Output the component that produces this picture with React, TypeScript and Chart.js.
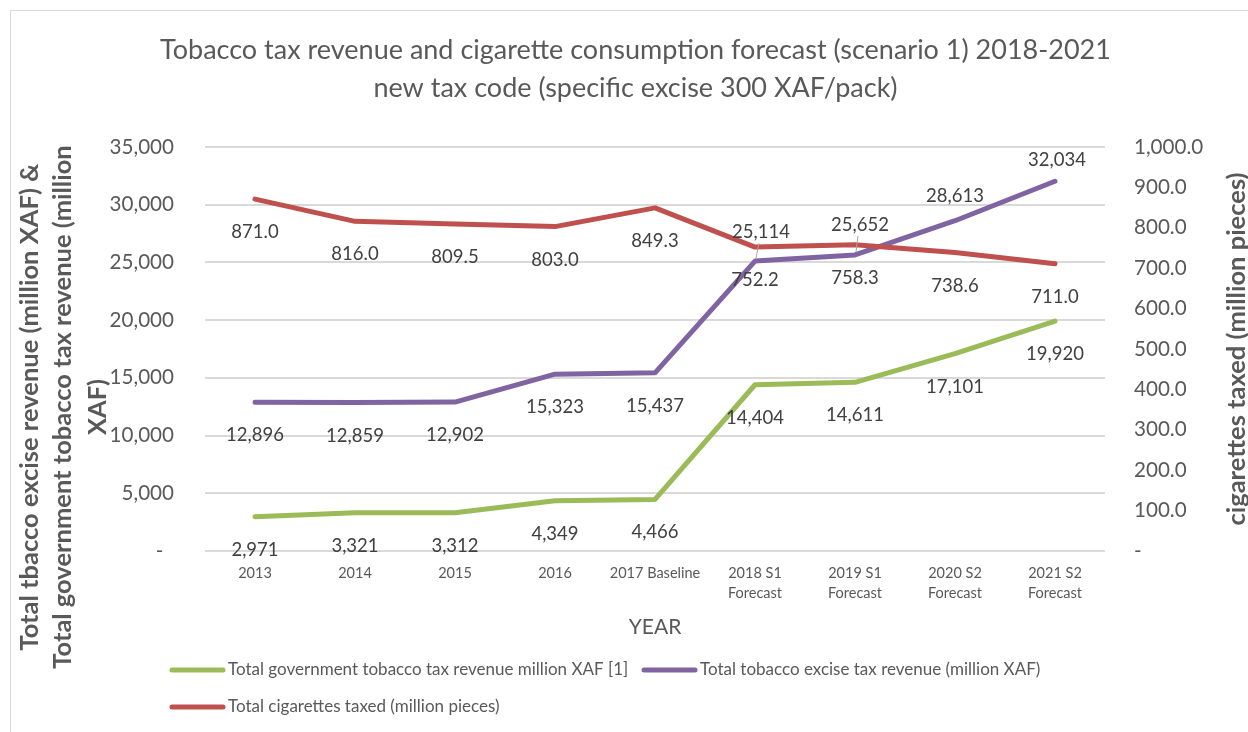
import React, { useEffect, useRef } from "react";
import { Chart, registerables } from "chart.js";

Chart.register(...registerables);

// ---------- data ----------
const categories: string[][] = [
  ["2013"],
  ["2014"],
  ["2015"],
  ["2016"],
  ["2017 Baseline"],
  ["2018 S1", "Forecast"],
  ["2019 S1", "Forecast"],
  ["2020 S2", "Forecast"],
  ["2021 S2", "Forecast"],
];
const governmentRevenue = [2971, 3321, 3312, 4349, 4466, 14404, 14611, 17101, 19920];
const exciseRevenue = [12896, 12859, 12902, 15323, 15437, 25114, 25652, 28613, 32034];
const cigarettesTaxed = [871.0, 816.0, 809.5, 803.0, 849.3, 752.2, 758.3, 738.6, 711.0];

const seriesNames = [
  "Total government tobacco tax revenue million XAF [1]",
  "Total tobacco excise tax revenue (million XAF)",
  "Total cigarettes taxed (million pieces)",
];
const titleLines = [
  "Tobacco tax revenue and cigarette consumption forecast (scenario 1) 2018-2021",
  "new tax code (specific excise 300 XAF/pack)",
];
const leftTitleLines = [
  "Total tbacco excise revenue (million XAF) &",
  "Total government tobacco tax revenue (million",
  "XAF)",
];
const rightTitle = "cigarettes taxed (million pieces)";
const xTitle = "YEAR";

// label placement (pixel offsets from each point)
const governmentLabelDy = [33, 33, 33, 33, 33, 33, 33, 33, 33];
const exciseLabelDy = [33, 33, 33, 33, 33, -29, -30, -25, -21];
const exciseLabelDx = [0, 0, 0, 0, 0, 6, 5, 0, 2];
const exciseLeader = [false, false, false, false, false, true, true, false, false];
const cigarettesLabelDy = [33, 33, 33, 33, 33, 33, 33, 33, 33];

const GREEN = "#9BBB59";
const PURPLE = "#8064A2";
const RED = "#C0504D";
const TEXT = "#595959";
const LABEL = "#404040";
const FONT = "Lato";

const fmtInt = (v: number) => v.toLocaleString("en-US", { maximumFractionDigits: 0 });
const fmtOne = (v: number) =>
  v.toLocaleString("en-US", { minimumFractionDigits: 1, maximumFractionDigits: 1 });

const decorPlugin = {
  id: "decor",
  afterDatasetsDraw(chart: any) {
    const ctx = chart.ctx as CanvasRenderingContext2D;
    ctx.save();
    ctx.font = `18.5px ${FONT}`;
    ctx.fillStyle = LABEL;
    ctx.textAlign = "center";
    ctx.textBaseline = "middle";
    const specs = [
      { idx: 0, data: governmentRevenue, dy: governmentLabelDy, dx: null, fmt: fmtInt, leader: null },
      { idx: 1, data: exciseRevenue, dy: exciseLabelDy, dx: exciseLabelDx, fmt: fmtInt, leader: exciseLeader },
      { idx: 2, data: cigarettesTaxed, dy: cigarettesLabelDy, dx: null, fmt: fmtOne, leader: null },
    ];
    for (const s of specs) {
      const meta = chart.getDatasetMeta(s.idx);
      meta.data.forEach((pt: any, i: number) => {
        const dx = s.dx ? s.dx[i] : 0;
        const lx = pt.x + dx;
        const ly = pt.y + s.dy[i];
        if (s.leader && s.leader[i]) {
          ctx.save();
          ctx.strokeStyle = "#a6a6a6";
          ctx.lineWidth = 1;
          ctx.beginPath();
          ctx.moveTo(lx - 2, ly + 11);
          ctx.lineTo(pt.x + 1, pt.y - 3);
          ctx.stroke();
          ctx.restore();
        }
        ctx.fillText(s.fmt(s.data[i]), lx, ly);
      });
    }
    ctx.restore();
  },
  afterDraw(chart: any) {
    const ctx = chart.ctx as CanvasRenderingContext2D;
    const area = chart.chartArea;
    ctx.save();
    ctx.fillStyle = TEXT;
    ctx.textAlign = "center";
    ctx.textBaseline = "middle";

    // chart title
    ctx.font = `27px ${FONT}`;
    const tcx = chart.width / 2 + 6;
    ctx.fillText(titleLines[0], tcx, area.top - 97);
    ctx.fillText(titleLines[1], tcx, area.top - 59);

    // x axis title
    ctx.font = `21px ${FONT}`;
    ctx.fillText(xTitle, (area.left + area.right) / 2, area.bottom + 76);

    // left axis title (rotated)
    ctx.font = `bold 25.5px ${FONT}`;
    const leftXs = [area.left - 175, area.left - 142, area.left - 107];
    leftTitleLines.forEach((line, i) => {
      ctx.save();
      ctx.translate(leftXs[i], area.top + 260);
      ctx.rotate(-Math.PI / 2);
      ctx.fillText(line, 0, 0);
      ctx.restore();
    });

    // right axis title
    ctx.save();
    ctx.translate(area.right + 132, area.top + 202);
    ctx.rotate(-Math.PI / 2);
    ctx.fillText(rightTitle, 0, 0);
    ctx.restore();

    // legend
    const items = [
      { color: GREEN, text: seriesNames[0], x: area.left - 35, y: area.bottom + 119 },
      { color: PURPLE, text: seriesNames[1], x: area.left + 437, y: area.bottom + 119 },
      { color: RED, text: seriesNames[2], x: area.left - 35, y: area.bottom + 156 },
    ];
    ctx.font = `17px ${FONT}`;
    ctx.textAlign = "left";
    for (const it of items) {
      ctx.strokeStyle = it.color;
      ctx.lineWidth = 5;
      ctx.lineCap = "round";
      ctx.beginPath();
      ctx.moveTo(it.x + 2, it.y);
      ctx.lineTo(it.x + 53, it.y);
      ctx.stroke();
      ctx.fillText(it.text, it.x + 58, it.y);
    }
    ctx.restore();
  },
};

export default function App() {
  const canvasRef = useRef<HTMLCanvasElement | null>(null);

  useEffect(() => {
    if (!canvasRef.current) return;
    Chart.defaults.font.family = FONT;
    const chart = new Chart(canvasRef.current, {
      type: "line",
      data: {
        labels: categories,
        datasets: [
          {
            label: seriesNames[0],
            data: governmentRevenue,
            borderColor: GREEN,
            backgroundColor: GREEN,
            yAxisID: "y",
            order: 1,
          },
          {
            label: seriesNames[1],
            data: exciseRevenue,
            borderColor: PURPLE,
            backgroundColor: PURPLE,
            yAxisID: "y",
            order: 2,
          },
          {
            label: seriesNames[2],
            data: cigarettesTaxed,
            borderColor: RED,
            backgroundColor: RED,
            yAxisID: "y1",
            order: 0,
          },
        ],
      },
      options: {
        responsive: false,
        animation: false,
        layout: { padding: { top: 136, left: 0, right: 0, bottom: 0 } },
        elements: {
          line: {
            borderWidth: 5,
            tension: 0,
            borderCapStyle: "round",
            borderJoinStyle: "round",
          },
          point: { radius: 0, hoverRadius: 0 },
        },
        plugins: {
          legend: { display: false },
          title: { display: false },
          tooltip: { enabled: false },
        },
        scales: {
          x: {
            offset: true,
            grid: { display: false, drawTicks: false },
            border: { display: false },
            ticks: {
              autoSkip: false,
              maxRotation: 0,
              minRotation: 0,
              padding: 12,
              color: TEXT,
              font: { family: FONT, size: 14.5, lineHeight: 1.38 },
            },
            afterFit(scale: any) {
              scale.height = 181;
            },
          },
          y: {
            position: "left",
            min: 0,
            max: 35000,
            ticks: {
              stepSize: 5000,
              padding: 31,
              color: TEXT,
              font: { family: FONT, size: 20.6 },
              callback: (v: any) => (Number(v) === 0 ? "-  " : fmtInt(Number(v))),
            },
            grid: { color: "#d9d9d9", lineWidth: 2, drawTicks: false },
            border: { display: false },
            afterFit(scale: any) {
              scale.width = 194;
            },
          },
          y1: {
            position: "right",
            min: 0,
            max: 1000,
            ticks: {
              stepSize: 100,
              padding: 29,
              color: TEXT,
              font: { family: FONT, size: 20.6 },
              callback: (v: any) => (Number(v) === 0 ? "-" : fmtOne(Number(v))),
            },
            grid: { display: false, drawTicks: false },
            border: { display: false },
            afterFit(scale: any) {
              scale.width = 143;
            },
          },
        },
      },
      plugins: [decorPlugin],
    } as any);
    return () => chart.destroy();
  }, []);

  return (
    <div
      style={{
        position: "absolute",
        left: 10,
        top: 10,
        borderLeft: "1px solid #d9d9d9",
        borderTop: "1px solid #d9d9d9",
        background: "#fff",
      }}
    >
      <canvas ref={canvasRef} width={1237} height={721} style={{ display: "block" }} />
    </div>
  );
}
